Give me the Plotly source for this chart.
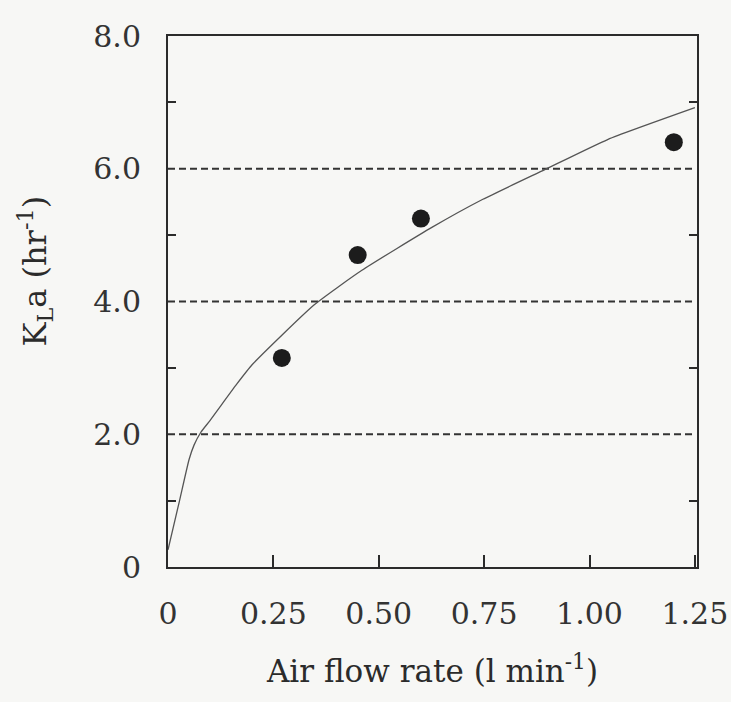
import plotly.graph_objects as go

# Measured oxygen transfer coefficient vs. air flow rate
air_flow = [0.27, 0.45, 0.60, 1.20]
kla_measured = [3.15, 4.70, 5.25, 6.40]

# Model curve
curve_flow = [0.0, 0.027, 0.050, 0.062, 0.078, 0.10, 0.1625, 0.20, 0.347, 0.46, 0.627, 0.747, 0.895, 1.043, 1.25]
curve_kla = [0.26, 0.99, 1.62, 1.84, 2.03, 2.21, 2.75, 3.05, 3.95, 4.47, 5.12, 5.54, 5.99, 6.44, 6.92]

# Horizontal dashed reference levels
guide_levels = [2.0, 4.0, 6.0]

x_tickvals = [0, 0.25, 0.50, 0.75, 1.00, 1.25]
x_ticktext = ["0", "0.25", "0.50", "0.75", "1.00", "1.25"]
y_tickvals = [0, 2, 4, 6, 8]
y_ticktext = ["0", "2.0", "4.0", "6.0", "8.0"]
y_minor = [1, 3, 5, 7]

X_MAX = 1.255
INK = "#2b2b2b"
FONT = "DejaVu Serif"

fig = go.Figure()

for lvl in guide_levels:
    fig.add_trace(go.Scatter(
        x=[0, X_MAX * 0.995], y=[lvl, lvl], mode="lines",
        line=dict(color="#333333", width=2.2, dash="7px,4px"),
        hoverinfo="skip", showlegend=False,
    ))

fig.add_trace(go.Scatter(
    x=curve_flow, y=curve_kla, mode="lines",
    line=dict(color="#555555", width=1.3, shape="spline", smoothing=0.5),
    showlegend=False,
))

fig.add_trace(go.Scatter(
    x=air_flow, y=kla_measured, mode="markers",
    marker=dict(size=18, color="#1c1c1c"),
    showlegend=False,
))

fig.update_layout(
    width=731, height=702,
    margin=dict(l=168, r=34, t=36, b=135),
    paper_bgcolor="#f7f7f5",
    plot_bgcolor="#f7f7f5",
    font=dict(family=FONT, color=INK, size=30),
    showlegend=False,
    annotations=[
        dict(text="K<sub>L</sub>a (hr<sup>-1</sup>)", textangle=-90,
             xref="paper", yref="paper", x=0, y=0.5, xanchor="center", yanchor="middle",
             xshift=-134, yshift=30, showarrow=False,
             font=dict(family=FONT, size=32, color="#2b2b2b")),
    ],
)

fig.update_xaxes(
    range=[0, X_MAX], automargin=False,
    tickvals=x_tickvals, ticktext=x_ticktext,
    ticks="inside", ticklen=12, tickwidth=2, tickcolor=INK,
    showline=True, linecolor=INK, linewidth=2, mirror=True,
    showgrid=False, zeroline=False,
    tickfont=dict(family=FONT, size=30, color="#333333"),
    ticklabelstandoff=19, ticklabeloverflow="allow",
    title=dict(text="Air flow rate (l min<sup>-1</sup>)",
               font=dict(family=FONT, size=31, color="#2b2b2b"), standoff=30),
)

fig.update_yaxes(
    range=[0, 8], automargin=False,
    tickvals=y_tickvals, ticktext=y_ticktext,
    ticks="", showline=True, linecolor=INK, linewidth=2, mirror="ticks",
    minor=dict(tickvals=y_minor, ticks="inside", ticklen=8, tickwidth=2, tickcolor=INK),
    showgrid=False, zeroline=False,
    tickfont=dict(family=FONT, size=30, color="#333333"),
    ticklabelstandoff=19,
)

fig.write_html("out.html")
